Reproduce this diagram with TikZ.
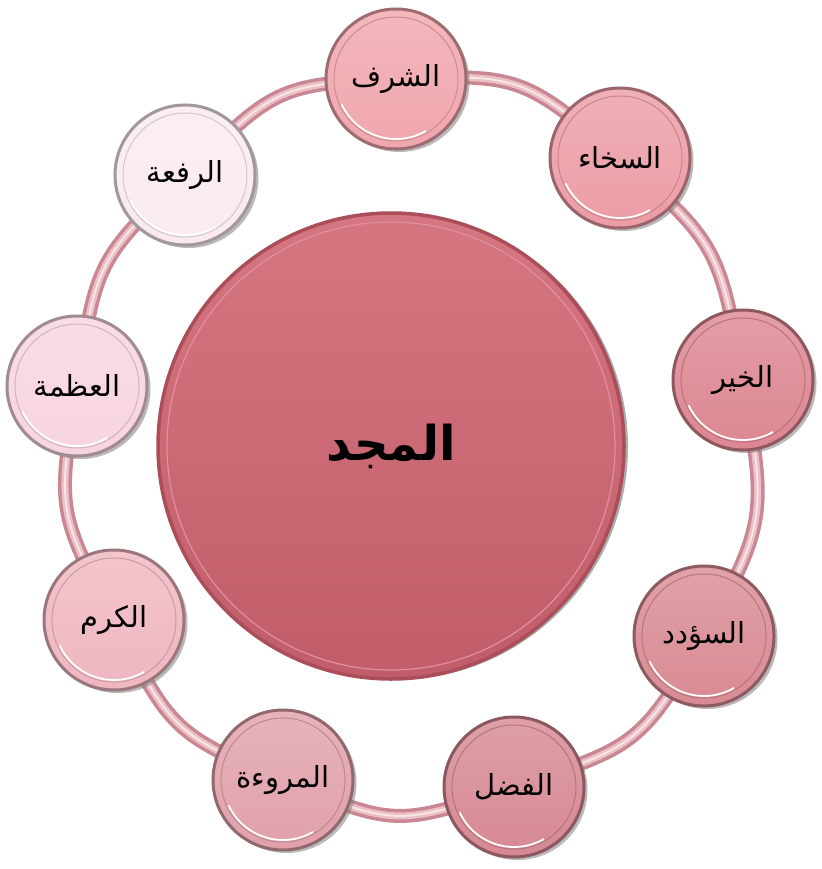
\documentclass[tikz,border=0pt]{standalone}
\usepackage{fontspec}
\newfontfamily\arabicfont[Script=Arabic]{DejaVu Sans}
\TeXXeTstate=1
\usetikzlibrary{shadows,backgrounds}
\definecolor{beadA}{RGB}{240,166,172}
\definecolor{beadB}{RGB}{236,156,164}
\definecolor{beadC}{RGB}{220,134,144}
\definecolor{beadD}{RGB}{217,138,146}
\definecolor{beadE}{RGB}{214,136,146}
\definecolor{beadF}{RGB}{224,160,171}
\definecolor{beadG}{RGB}{239,182,192}
\definecolor{beadH}{RGB}{247,212,225}
\definecolor{beadI}{RGB}{250,234,240}
\definecolor{coreTop}{RGB}{214,118,128}
\definecolor{coreBot}{RGB}{192,93,105}
\definecolor{coreRim}{RGB}{170,78,90}
\definecolor{ringDark}{RGB}{200,135,146}
\definecolor{ringLight}{RGB}{236,190,198}
\newcommand{\artext}[1]{{\arabicfont\beginR #1\endR}}

\begin{document}
\begin{tikzpicture}[x=1pt,y=-1pt,
  bead/.style={circle, minimum size=140pt, inner sep=0pt, line width=3pt, draw=#1!65!black,
    top color=#1!80!white, bottom color=#1, font=\fontsize{29}{34}\selectfont,
    drop shadow={shadow xshift=3.5pt, shadow yshift=-3pt, opacity=0.55},
    path picture={
      \draw[#1!85!black, line width=1pt] (path picture bounding box.center) circle[radius=62pt];
      \draw[white, line width=1.8pt] (path picture bounding box.center) ++(205:60pt) arc[start angle=205, end angle=300, radius=60pt];
    }},
  core/.style={circle, minimum size=466pt, inner sep=0pt, line width=3.5pt, draw=coreRim,
    top color=coreTop, bottom color=coreBot, font=\fontsize{48}{54}\selectfont\bfseries,
    drop shadow={shadow xshift=4pt, shadow yshift=-1pt, opacity=0.65},
    path picture={
      \draw[coreTop!80!white, line width=1.2pt] (path picture bounding box.center) circle[radius=224pt];
    }},
  tube/.style={draw=ringDark, line width=14pt,
    postaction={draw=ringLight, line width=7pt},
    postaction={draw=ringLight!40!white, line width=2pt}},
]
\useasboundingbox (0,0) rectangle (821,869);
% centre
\node[core] (majd) at (391,446) {\artext{المجد}};
% beads round the ring
\node[bead=beadA] (sharaf) at (396,79) {\artext{الشرف}};
\node[bead=beadB] (sakha) at (620,158) {\artext{السخاء}};
\node[bead=beadC] (khayr) at (743,380) {\artext{الخير}};
\node[bead=beadD] (sudad) at (704,636) {\artext{السؤدد}};
\node[bead=beadE] (fadl) at (514,787) {\artext{الفضل}};
\node[bead=beadF] (muruwa) at (283,780) {\artext{المروءة}};
\node[bead=beadG] (karam) at (114,620) {\artext{الكرم}};
\node[bead=beadH] (azama) at (77,386) {\artext{العظمة}};
\node[bead=beadI] (rifa) at (185,175) {\artext{الرفعة}};
% ring behind the beads
\begin{scope}[on background layer]
\draw[tube] plot[smooth cycle, tension=1] coordinates {(sharaf.center) (sakha.center) (khayr.center) (sudad.center) (fadl.center) (muruwa.center) (karam.center) (azama.center) (rifa.center)};
\end{scope}
\end{tikzpicture}
\end{document}
